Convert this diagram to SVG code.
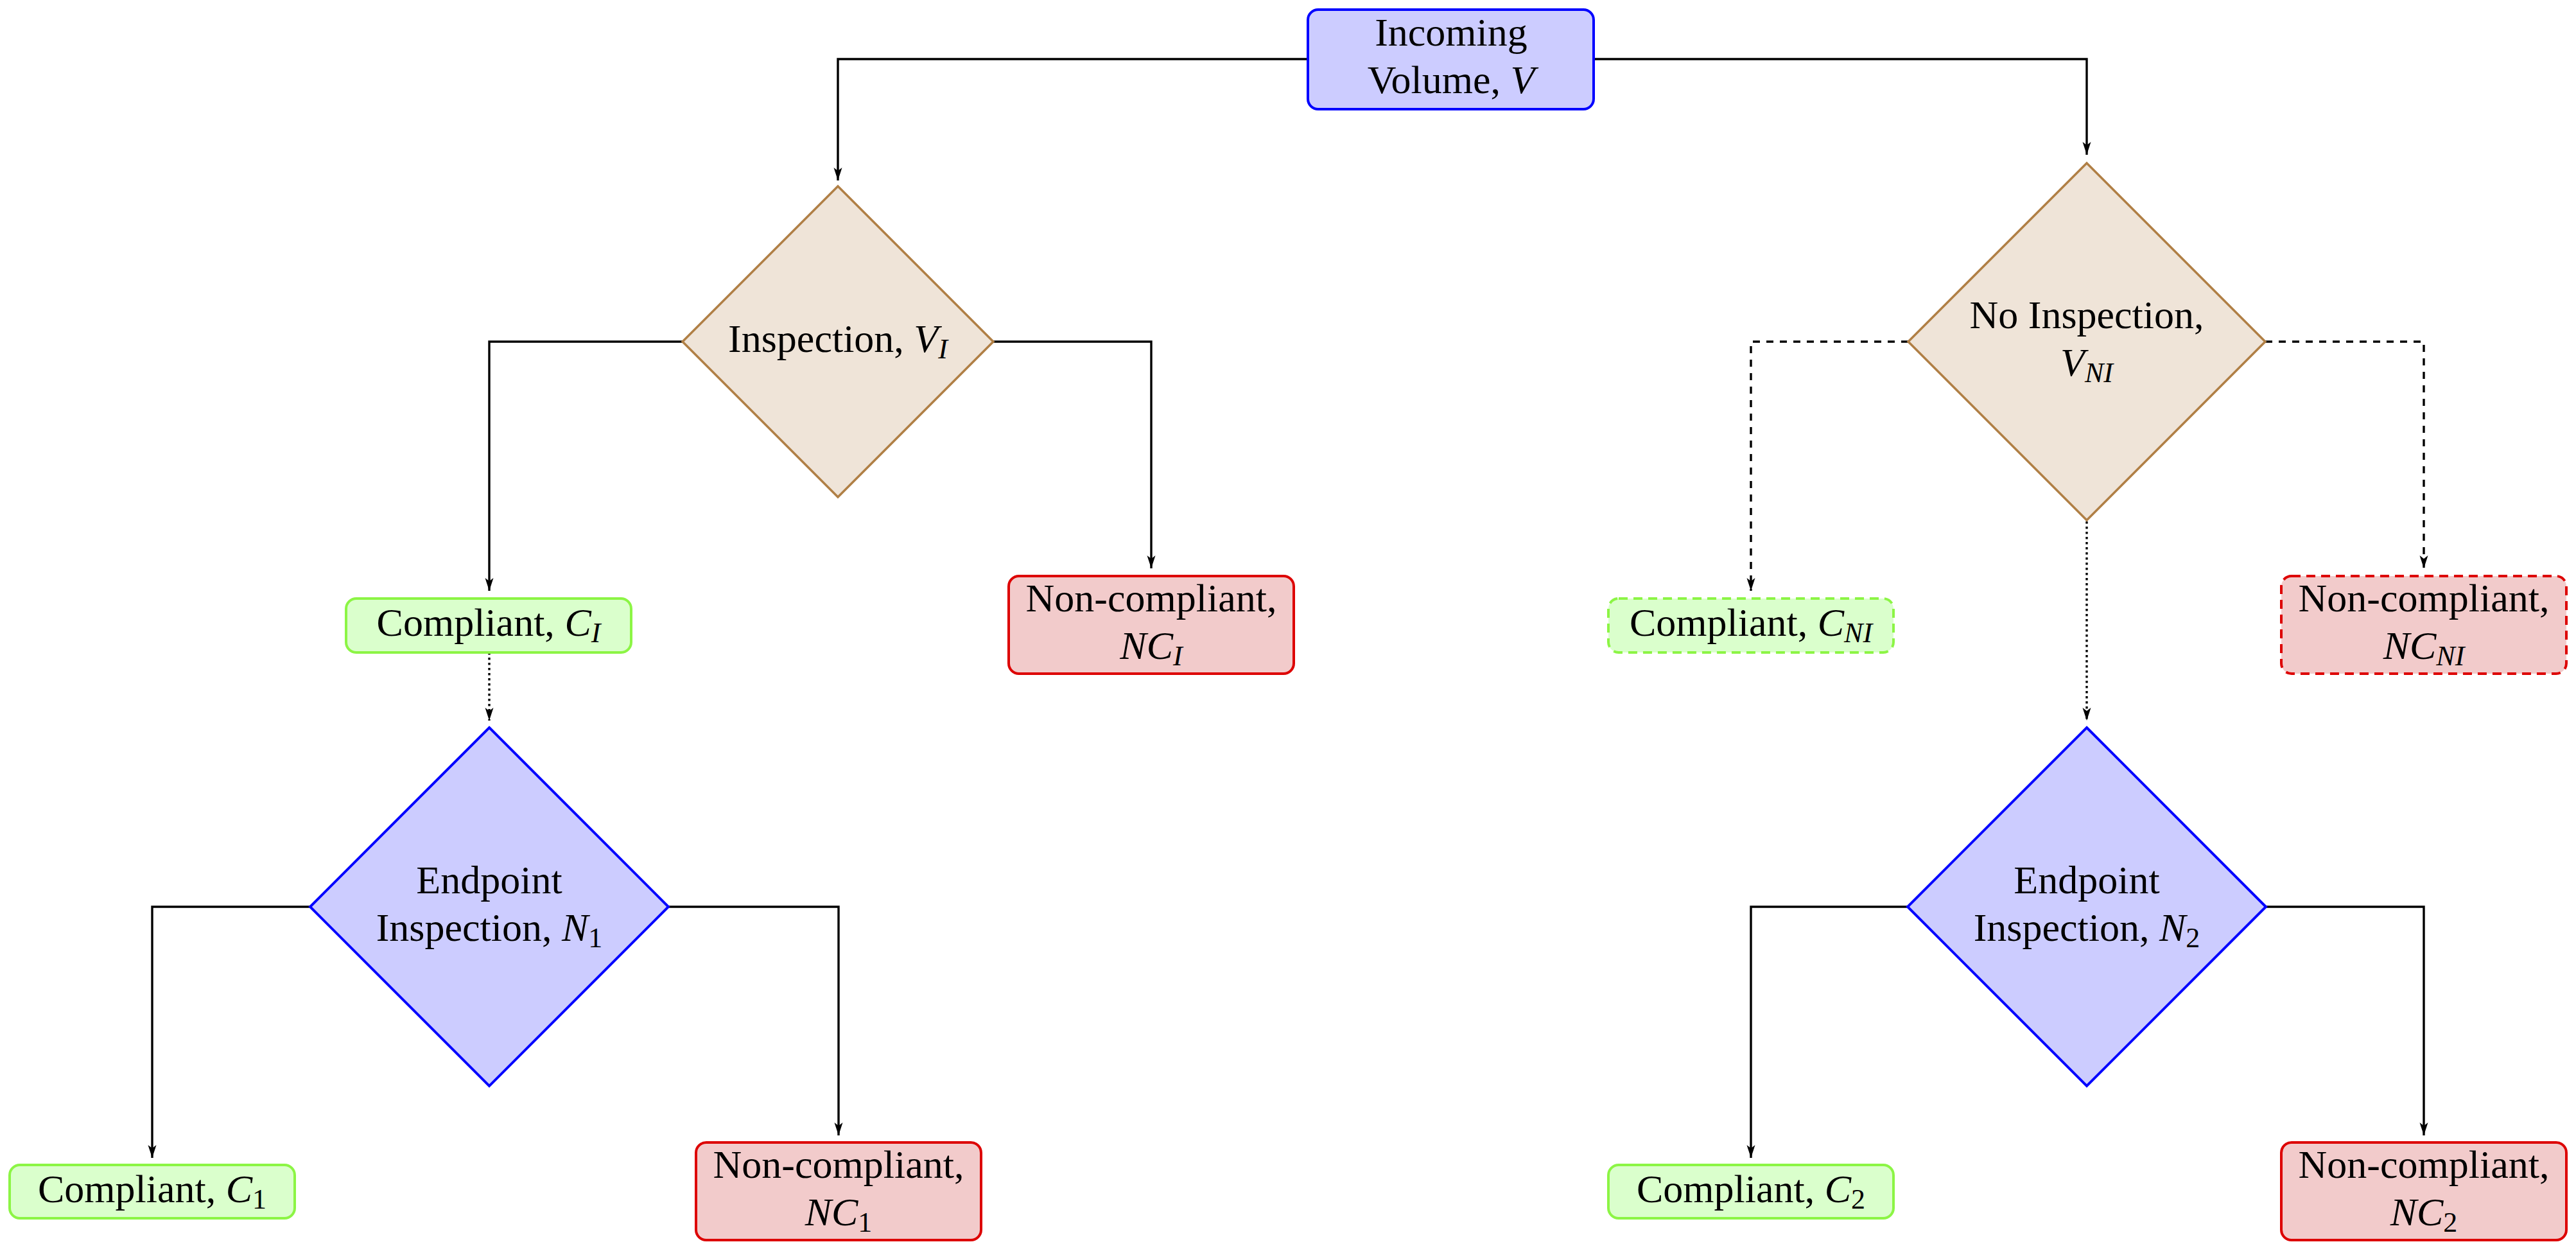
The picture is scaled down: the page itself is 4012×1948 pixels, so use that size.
<svg xmlns="http://www.w3.org/2000/svg" width="4012" height="1948" viewBox="0 0 4012 1948">
<style>
text{font-family:"Liberation Serif","Times New Roman",serif;font-size:62px;fill:#000;text-anchor:middle}
.i{font-style:italic}
.s{font-size:44px}
.blue{fill:#CCCCFF;stroke:#0000FF;stroke-width:4}
.brown{fill:#EFE4D8;stroke:#B07F45;stroke-width:3.5}
.green{fill:#DAFFCC;stroke:#8CF545;stroke-width:4}
.red{fill:#F2CBCB;stroke:#DD0000;stroke-width:4}
.dash{stroke-dasharray:14 9}
.c{fill:none;stroke:#000;stroke-width:3.4;marker-end:url(#arr)}
.cd{stroke-dasharray:11 10}
.co{stroke-dasharray:3.5 4.5}
</style>
<defs>
<marker id="arr" markerWidth="24" markerHeight="16" refX="20" refY="8" orient="auto" markerUnits="userSpaceOnUse">
<path d="M0,1.5 L20,8 L0,14.5 L5,8 Z" fill="#000"/>
</marker>
</defs>
<rect width="4012" height="1948" fill="#FFFFFF"/>
<g id="connectors">
<path class="c" d="M2037,92 H1305 V281"/>
<path class="c" d="M2482,92 H3250 V241"/>
<path class="c" d="M1063,532 H762 V920"/>
<path class="c" d="M1547,532 H1793 V885"/>
<path class="c co" d="M762,1016 V1122"/>
<path class="c" d="M483,1412 H237 V1803"/>
<path class="c" d="M1041,1412 H1306 V1768"/>
<path class="c cd" d="M2972,532 H2727 V920"/>
<path class="c cd" d="M3528,532 H3775 V885"/>
<path class="c co" d="M3250,812 V1122"/>
<path class="c" d="M2971,1412 H2727 V1803"/>
<path class="c" d="M3529,1412 H3775 V1768"/>
</g>
<g id="incoming">
<rect class="blue" x="2037" y="15" width="445" height="155" rx="16"/>
<text x="2260" y="71">Incoming</text>
<text x="2260" y="145">Volume, <tspan class="i">V</tspan></text>
</g>
<g id="inspection">
<polygon class="brown" points="1305,290 1547,532 1305,774 1063,532"/>
<text x="1305" y="548">Inspection, <tspan class="i">V</tspan><tspan class="i s" dy="10">I</tspan></text>
</g>
<g id="no-inspection">
<polygon class="brown" points="3250,254 3528,532 3250,810 2972,532"/>
<text x="3250" y="511">No Inspection,</text>
<text x="3250" y="585"><tspan class="i">V</tspan><tspan class="i s" dy="10">NI</tspan></text>
</g>
<g id="compliant-i">
<rect class="green" x="539" y="932" width="444" height="84" rx="16"/>
<text x="761" y="990">Compliant, <tspan class="i">C</tspan><tspan class="i s" dy="10">I</tspan></text>
</g>
<g id="noncompliant-i">
<rect class="red" x="1571" y="897" width="444" height="152" rx="16"/>
<text x="1793" y="952">Non-compliant,</text>
<text x="1793" y="1026"><tspan class="i">NC</tspan><tspan class="i s" dy="10">I</tspan></text>
</g>
<g id="compliant-ni">
<rect class="green dash" x="2505" y="932" width="444" height="84" rx="16"/>
<text x="2727" y="990">Compliant, <tspan class="i">C</tspan><tspan class="i s" dy="10">NI</tspan></text>
</g>
<g id="noncompliant-ni">
<rect class="red dash" x="3553" y="897" width="444" height="152" rx="16"/>
<text x="3775" y="952">Non-compliant,</text>
<text x="3775" y="1026"><tspan class="i">NC</tspan><tspan class="i s" dy="10">NI</tspan></text>
</g>
<g id="endpoint-1">
<polygon class="blue" points="762,1133 1041,1412 762,1691 483,1412"/>
<text x="762" y="1391">Endpoint</text>
<text x="762" y="1465">Inspection, <tspan class="i">N</tspan><tspan class="s" dy="10">1</tspan></text>
</g>
<g id="endpoint-2">
<polygon class="blue" points="3250,1133 3529,1412 3250,1691 2971,1412"/>
<text x="3250" y="1391">Endpoint</text>
<text x="3250" y="1465">Inspection, <tspan class="i">N</tspan><tspan class="s" dy="10">2</tspan></text>
</g>
<g id="compliant-1">
<rect class="green" x="15" y="1814" width="444" height="83" rx="16"/>
<text x="237" y="1872">Compliant, <tspan class="i">C</tspan><tspan class="s" dy="10">1</tspan></text>
</g>
<g id="noncompliant-1">
<rect class="red" x="1084" y="1779" width="444" height="152" rx="16"/>
<text x="1306" y="1834">Non-compliant,</text>
<text x="1306" y="1908"><tspan class="i">NC</tspan><tspan class="s" dy="10">1</tspan></text>
</g>
<g id="compliant-2">
<rect class="green" x="2505" y="1814" width="444" height="83" rx="16"/>
<text x="2727" y="1872">Compliant, <tspan class="i">C</tspan><tspan class="s" dy="10">2</tspan></text>
</g>
<g id="noncompliant-2">
<rect class="red" x="3553" y="1779" width="444" height="152" rx="16"/>
<text x="3775" y="1834">Non-compliant,</text>
<text x="3775" y="1908"><tspan class="i">NC</tspan><tspan class="s" dy="10">2</tspan></text>
</g>
</svg>
